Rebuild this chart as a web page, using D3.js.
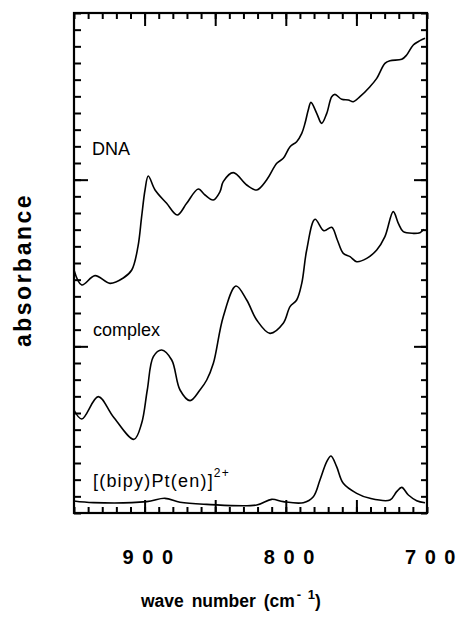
<!DOCTYPE html>
<html>
<head>
<meta charset="utf-8">
<script src="https://cdn.jsdelivr.net/npm/d3@7"></script>
<style>
  body { margin: 0; background: #fff; }
  svg { display: block; }
  text { font-family: "Liberation Sans", Arial, sans-serif; fill: #000; }
</style>
</head>
<body>
<div id="chart"></div>
<script>
// spectra: [wave number, absorbance (arbitrary, stacked)]
var dnaSpectrum = [
    [950, 14.58], [944.5, 13.68], [935.1, 14.24], [924.5, 13.78], [915.1, 14.1],
    [909.1, 14.58], [904.7, 15.98], [902.1, 17.78], [899.7, 19.38], [897.4, 20.22],
    [892.6, 19.38], [884.4, 18.58], [876.9, 17.88], [870.2, 18.58], [862.0, 19.44],
    [857.2, 19.08], [851.4, 18.78], [846.6, 19.28], [844.3, 19.88], [837.2, 20.42],
    [827.7, 19.68], [820.6, 19.38], [813.6, 19.98], [806.4, 20.98], [801.8, 21.28],
    [797.0, 21.98], [792.3, 22.28], [788.7, 22.78], [786.4, 23.38], [784.1, 24.18],
    [782.2, 24.64], [778.1, 23.98], [774.6, 23.38], [771.0, 23.98], [767.5, 24.98],
    [765.2, 25.12], [760.4, 24.82], [755.7, 24.78], [752.2, 24.68], [747.5, 24.98],
    [740.4, 25.58], [735.6, 26.08], [729.8, 26.98], [726.2, 27.14], [717.9, 27.22],
    [714.4, 27.48], [709.7, 28.08], [705.0, 28.34], [701.4, 28.48]
];
var complexSpectrum = [
    [950, 6.18], [944.5, 5.64], [932.8, 6.98], [922.2, 5.78], [907.5, 4.42],
    [902.1, 5.38], [898.1, 7.38], [893.8, 9.38], [887.9, 9.78], [880.8, 9.18],
    [874.9, 7.38], [867.8, 6.74], [860.8, 7.38], [856.0, 7.98], [851.3, 8.98],
    [844.3, 11.78], [835.3, 13.62], [827.7, 12.78], [820.6, 11.58], [811.2, 10.78],
    [801.8, 11.38], [797.0, 12.38], [792.3, 12.78], [788.7, 13.78], [785.2, 15.78],
    [779.3, 17.62], [773.0, 16.94], [767.5, 17.14], [763.5, 16.38], [759.3, 15.58],
    [754.5, 15.38], [749.8, 15.08], [742.7, 15.28], [735.6, 15.78], [729.8, 16.58],
    [723.9, 18.08], [720.3, 17.38], [716.8, 16.88], [709.7, 16.78], [705.0, 16.82],
    [702.2, 17.02]
];
var bipySpectrum = [
    [950, 0.72], [936.3, 0.62], [898.5, 0.68], [885.6, 0.88], [874.9, 0.64],
    [856.0, 0.52], [820.6, 0.48], [810.0, 0.82], [801.8, 0.68], [787.6, 0.62],
    [780.5, 0.98], [775.8, 1.98], [771.0, 3.08], [768.0, 3.42], [764.0, 2.78],
    [759.3, 1.78], [749.8, 1.18], [740.4, 0.88], [726.2, 0.78], [721.5, 1.28],
    [717.9, 1.54], [713.2, 1.08], [707.3, 0.74], [701.4, 0.62]
];
var xTickLabels = [900, 800, 700];
var xMajorTicks = [900, 850, 800, 750];
var yMajorTicks = [10, 20];

var width = 460, height = 621;
var plotLeft = 74, plotRight = 427, plotTop = 13, plotBottom = 513;

var svg = d3.select("#chart").append("svg")
    .attr("width", width)
    .attr("height", height);

var x = d3.scaleLinear().domain([950, 700]).range([plotLeft, plotRight]);
var y = d3.scaleLinear().domain([0, 30]).range([plotBottom, plotTop]);

var xMinor = d3.range(950, 699, -10);
var yMinor = d3.range(0, 31, 1);

function tickAxis(axis, ticks, size) {
    return axis.tickValues(ticks).tickSize(-size).tickFormat("");
}

function drawAxis(g) {
    g.select(".domain").remove();
    g.selectAll(".tick line").attr("stroke", "#000").attr("stroke-width", 2);
}

// inward ticks on all four sides
svg.append("g").attr("transform", "translate(0," + plotBottom + ")")
    .call(tickAxis(d3.axisBottom(x), xMinor, 6)).call(drawAxis);
svg.append("g").attr("transform", "translate(0," + plotBottom + ")")
    .call(tickAxis(d3.axisBottom(x), xMajorTicks, 13)).call(drawAxis);
svg.append("g").attr("transform", "translate(0," + plotTop + ")")
    .call(tickAxis(d3.axisTop(x), xMinor, 6)).call(drawAxis);
svg.append("g").attr("transform", "translate(0," + plotTop + ")")
    .call(tickAxis(d3.axisTop(x), xMajorTicks, 13)).call(drawAxis);
svg.append("g").attr("transform", "translate(" + plotLeft + ",0)")
    .call(tickAxis(d3.axisLeft(y), yMinor, 7)).call(drawAxis);
svg.append("g").attr("transform", "translate(" + plotLeft + ",0)")
    .call(tickAxis(d3.axisLeft(y), yMajorTicks, 14)).call(drawAxis);
svg.append("g").attr("transform", "translate(" + plotRight + ",0)")
    .call(tickAxis(d3.axisRight(y), yMinor, 6)).call(drawAxis);
svg.append("g").attr("transform", "translate(" + plotRight + ",0)")
    .call(tickAxis(d3.axisRight(y), yMajorTicks, 13)).call(drawAxis);

svg.append("rect")
    .attr("x", plotLeft).attr("y", plotTop)
    .attr("width", plotRight - plotLeft).attr("height", plotBottom - plotTop)
    .attr("fill", "none").attr("stroke", "#000").attr("stroke-width", 2.2);

var line = d3.line()
    .x(function (d) { return x(d[0]); })
    .y(function (d) { return y(d[1]); })
    .curve(d3.curveCatmullRom.alpha(0.5));

[dnaSpectrum, complexSpectrum, bipySpectrum].forEach(function (s) {
    svg.append("path")
        .datum(s)
        .attr("d", line)
        .attr("fill", "none")
        .attr("stroke", "#000")
        .attr("stroke-width", 1.6);
});

// curve labels
svg.append("text").attr("x", 92).attr("y", 155)
    .style("font-size", "18px").text("DNA");
svg.append("text").attr("x", 93).attr("y", 336)
    .style("font-size", "18px").text("complex");
var bl = svg.append("text").attr("x", 93).attr("y", 487)
    .style("font-size", "18px").style("letter-spacing", "1.2px");
bl.append("tspan").text("[(bipy)Pt(en)]");
bl.append("tspan").attr("dy", -10).style("font-size", "12px").text("2+");

// x tick labels
svg.selectAll(".xlab").data(xTickLabels).enter().append("text")
    .attr("class", "xlab")
    .attr("x", function (d) { return x(d) + 4; })
    .attr("y", 564)
    .attr("text-anchor", "middle")
    .style("font-size", "20px").style("font-weight", "bold")
    .style("letter-spacing", "1.5px")
    .text(function (d) { return String(d).split("").join(" "); });

// axis titles
var xt = svg.append("text").attr("x", 141).attr("y", 607)
    .style("font-size", "17.5px").style("font-weight", "bold")
    .style("word-spacing", "3px");
xt.append("tspan").text("wave number (cm");
xt.append("tspan").attr("dx", 2).attr("dy", -8).style("font-size", "13px").text("- 1");
xt.append("tspan").attr("dy", 8).text(")");

svg.append("text")
    .attr("transform", "translate(31,270) rotate(-90)")
    .attr("text-anchor", "middle")
    .style("font-size", "23px").style("font-weight", "bold")
    .style("letter-spacing", "2.5px")
    .text("absorbance");
</script>
</body>
</html>
